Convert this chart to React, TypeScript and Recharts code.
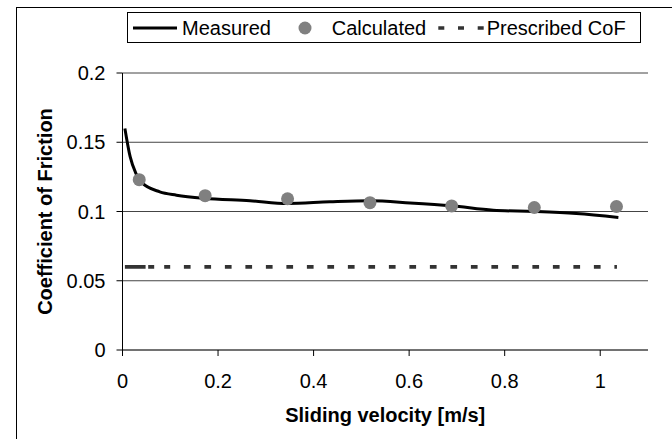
import React from 'react';
import {
  ComposedChart,
  Line,
  Scatter,
  XAxis,
  YAxis,
  CartesianGrid,
  Legend
} from 'recharts';

// values
const measuredVelocity = [0.005, 0.016, 0.028, 0.04, 0.078, 0.113, 0.17, 0.267, 0.345, 0.434, 0.518, 0.602, 0.689, 0.776, 0.862, 0.95, 1.038];
const measuredCoF = [0.16, 0.1396, 0.1275, 0.121, 0.1142, 0.1118, 0.1095, 0.1078, 0.1058, 0.107, 0.1077, 0.1062, 0.1041, 0.1009, 0.1, 0.0985, 0.0957];

const calculatedVelocity = [0.035, 0.173, 0.3455, 0.518, 0.689, 0.862, 1.034];
const calculatedCoF = [0.123, 0.1114, 0.1092, 0.1064, 0.104, 0.1029, 0.1036];

const prescribedVelocity = [0.005, 1.035];
const prescribedCoF = [0.06, 0.06];

const xTicks = [0, 0.2, 0.4, 0.6, 0.8, 1];
const yTicks = [0, 0.05, 0.1, 0.15, 0.2];

const FONT = '"Liberation Sans", Arial, sans-serif';

const measuredData = measuredVelocity.map((x, i) => ({ x, y: measuredCoF[i] }));
const calculatedData = calculatedVelocity.map((x, i) => ({ x, y: calculatedCoF[i] }));
const prescribedData = prescribedVelocity.map((x, i) => ({ x, y: prescribedCoF[i] }));

// Excel restarts the dash at every short segment near the start, so the first bit looks solid
const prescribedDash = ['20.7', '2.6', '6', '10', '6', '13.7'].concat(Array(26).fill('6.7 13.8')).join(' ');

const LegendBox = () => (
  <div style={{ width: 514, height: 31, border: '1px solid #000', boxSizing: 'border-box', background: '#fff' }}>
    <svg width={512} height={29} style={{ display: 'block' }}>
      <line x1={5} x2={49} y1={15} y2={15} stroke="#000" strokeWidth={3} />
      <text x={54} y={22} fontSize={20} fontFamily={FONT} fill="#000">Measured</text>
      <circle cx={177} cy={15} r={6.5} fill="#808080" />
      <text x={203.7} y={22} fontSize={20} fontFamily={FONT} fill="#000">Calculated</text>
      <line x1={310.3} x2={356} y1={15} y2={15} stroke="#333" strokeWidth={3.7} strokeDasharray="6 13.7" />
      <text x={358.7} y={22} fontSize={20} fontFamily={FONT} fill="#000">Prescribed CoF</text>
    </svg>
  </div>
);

const CalcDot = (props: any) => {
  const { cx, cy } = props;
  if (cx == null || cy == null) return null;
  return <circle cx={cx} cy={cy} r={6.5} fill="#808080" />;
};

const App = () => {
  return (
    <div style={{ position: 'absolute', left: 0, top: 0, width: 672, height: 439, overflow: 'hidden', background: '#fff' }}>
      <div style={{ position: 'absolute', left: 16, top: 7, width: 720, height: 500, border: '1px solid #000' }} />
      <div style={{ position: 'absolute', left: 0, top: 0 }}>
        <ComposedChart
          width={672}
          height={439}
          margin={{ top: 73, right: 24, bottom: 59, left: 0 }}
        >
          <CartesianGrid horizontal vertical={false} stroke="#444" />
          <XAxis
            type="number"
            dataKey="x"
            domain={[0, 1.1]}
            ticks={xTicks}
            allowDataOverflow
            height={30}
            tickSize={6}
            tickMargin={18}
            tick={{ fill: '#000', fontSize: 20, fontFamily: FONT }}
            axisLine={{ stroke: '#444' }}
            tickLine={{ stroke: '#000' }}
            label={({ viewBox }: any) => (
              <text
                x={viewBox.x + viewBox.width / 2}
                y={viewBox.y + 72}
                textAnchor="middle"
                fontSize={20}
                fontWeight="bold"
                fontFamily={FONT}
                fill="#000"
              >
                Sliding velocity [m/s]
              </text>
            )}
          />
          <YAxis
            type="number"
            dataKey="y"
            domain={[0, 0.2]}
            ticks={yTicks}
            width={122.5}
            tickSize={6}
            tickMargin={11}
            tick={{ fill: '#000', fontSize: 20, fontFamily: FONT }}
            axisLine={{ stroke: '#000' }}
            tickLine={{ stroke: '#000' }}
            label={({ viewBox }: any) => {
              const cx = viewBox.x + 45;
              const cy = viewBox.y + viewBox.height / 2;
              return (
                <text
                  x={cx}
                  y={cy}
                  transform={`rotate(-90 ${cx} ${cy})`}
                  textAnchor="middle"
                  dominantBaseline="central"
                  fontSize={20}
                  fontWeight="bold"
                  fontFamily={FONT}
                  fill="#000"
                >
                  Coefficient of Friction
                </text>
              );
            }}
          />
          <Legend
            layout="horizontal"
            verticalAlign="middle"
            align="center"
            wrapperStyle={{ top: 12, left: 127, width: 514, height: 31 }}
            content={() => <LegendBox />}
          />
          <Line
            data={prescribedData}
            dataKey="y"
            name="Prescribed CoF"
            type="linear"
            stroke="#333"
            strokeWidth={3.7}
            strokeDasharray={prescribedDash}
            dot={false}
            activeDot={false}
            isAnimationActive={false}
          />
          <Line
            data={measuredData}
            dataKey="y"
            name="Measured"
            type="monotone"
            stroke="#000"
            strokeWidth={3}
            dot={false}
            activeDot={false}
            isAnimationActive={false}
          />
          <Scatter
            data={calculatedData}
            dataKey="y"
            name="Calculated"
            shape={<CalcDot />}
            isAnimationActive={false}
          />
        </ComposedChart>
      </div>
    </div>
  );
};

export default App;
